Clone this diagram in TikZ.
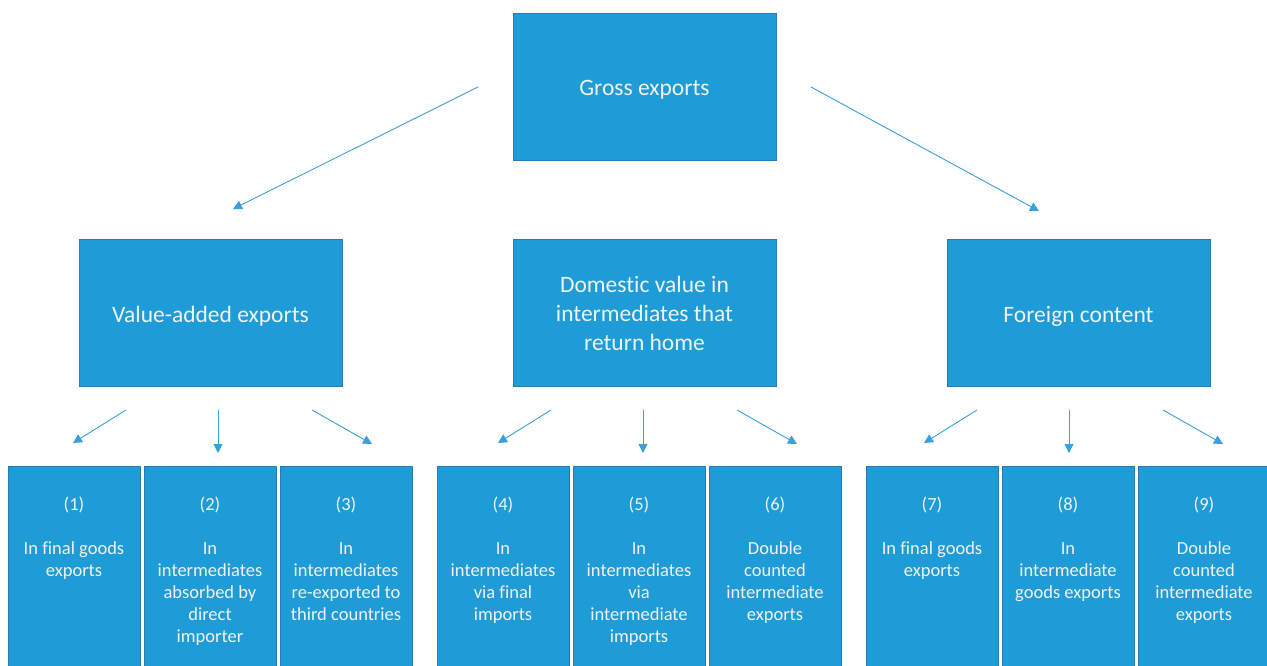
\documentclass[tikz,border=0pt]{standalone}
\usepackage{fontspec}
\setmainfont{Carlito}[Ligatures=NoCommon]
\usetikzlibrary{arrows.meta}
\definecolor{boxblue}{RGB}{30,156,215}
\definecolor{boxedge}{RGB}{40,122,178}
\definecolor{arrowblue}{RGB}{58,160,220}
\definecolor{txtcol}{RGB}{242,242,242}
\begin{document}
\begin{tikzpicture}[x=1pt,y=-1pt,
 bigbox/.style={draw=boxedge,fill=boxblue,line width=0.8pt,minimum width=263pt,minimum height=147pt,inner sep=0pt},
 bigtext/.style={inner sep=0pt,text=txtcol,align=center,font=\fontsize{23.5}{29}\selectfont},
 smallbox/.style={draw=boxedge,fill=boxblue,line width=0.8pt,minimum width=132pt,minimum height=240pt,anchor=north,inner sep=0pt},
 smalltext/.style={anchor=north,text=txtcol,align=center,font=\fontsize{18.5}{22}\selectfont,inner sep=0pt},
 conn/.style={draw=arrowblue,line width=0.9pt,-{Triangle[length=9pt,width=9pt]}}]
\useasboundingbox (0,0) rectangle (1267,666);
\clip (0,0) rectangle (1267,666);
\fill[white] (0,0) rectangle (1267,666);

% top and middle boxes
\node[bigbox] (gross) at (644.5,86.5) {};
\node[bigbox] (va) at (210.5,313) {};
\node[bigbox] (dom) at (644.5,313) {};
\node[bigbox] (fc) at (1078.5,313) {};
\node[bigtext] (grosst) at (644.5,89.5) {Gross exports};
\node[bigtext] (vat) at (210.5,316) {Value-added exports};
\node[bigtext] (domt) at (644.5,313.5) {Domestic value in\\intermediates that\\return home};
\node[bigtext] (fct) at (1078.5,316) {Foreign content};

% bottom boxes
\foreach \n/\x in {1/74,2/210,3/346,4/503,5/639,6/775,7/932,8/1068,9/1204}{
  \node[smallbox] (b\n) at (\x,466) {};
}
\node[smalltext] (t1) at (74,497) {(1)\\[22pt]In final goods\\exports};
\node[smalltext] (t2) at (210,497) {(2)\\[22pt]In\\intermediates\\absorbed by\\direct\\importer};
\node[smalltext] (t3) at (346,497) {(3)\\[22pt]In\\intermediates\\re-exported to\\third countries};
\node[smalltext] (t4) at (503,497) {(4)\\[22pt]In\\intermediates\\via final\\imports};
\node[smalltext] (t5) at (639,497) {(5)\\[22pt]In\\intermediates\\via\\intermediate\\imports};
\node[smalltext] (t6) at (775,497) {(6)\\[22pt]Double\\counted\\intermediate\\exports};
\node[smalltext] (t7) at (932,497) {(7)\\[22pt]In final goods\\exports};
\node[smalltext] (t8) at (1068,497) {(8)\\[22pt]In\\intermediate\\goods exports};
\node[smalltext] (t9) at (1204,497) {(9)\\[22pt]Double\\counted\\intermediate\\exports};

% arrow end points
\coordinate (gL) at (478,87);
\coordinate (gLe) at (233,209);
\coordinate (gR) at (811,87);
\coordinate (gRe) at (1039,211);
\draw[conn] (gL) -- (gLe);
\draw[conn] (gR) -- (gRe);

\foreach \g/\c in {a/218,b/643,c/1069}{
  \coordinate (\g Ls) at (\c-92,410);
  \coordinate (\g Le) at (\c-145,443);
  \coordinate (\g Ms) at (\c,410);
  \coordinate (\g Me) at (\c,453);
  \coordinate (\g Rs) at (\c+94,410);
  \coordinate (\g Re) at (\c+154,444);
  \draw[conn] (\g Ls) -- (\g Le);
  \draw[conn] (\g Ms) -- (\g Me);
  \draw[conn] (\g Rs) -- (\g Re);
}
\end{tikzpicture}
\end{document}
